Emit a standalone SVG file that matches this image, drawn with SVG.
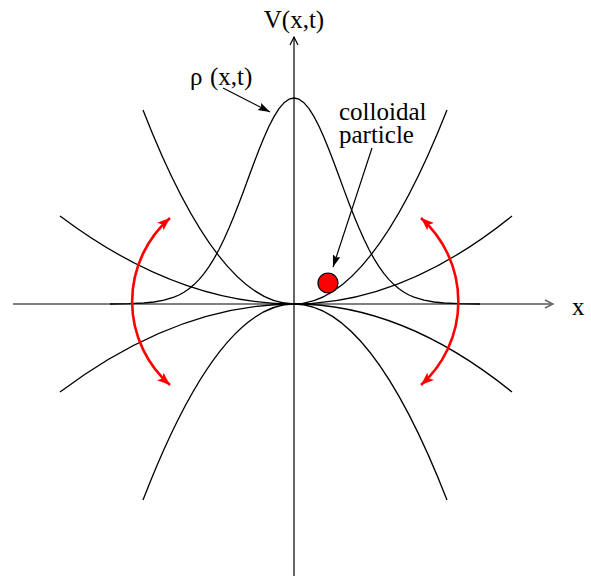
<svg xmlns="http://www.w3.org/2000/svg" width="591" height="576" viewBox="0 0 591 576">
<style>
  .curve { fill: none; stroke: #000; stroke-width: 1.3; stroke-linejoin: round; }
  .lbl { font-family: "Liberation Serif", "Times New Roman", serif; font-size: 25px; fill: #000; }
  .red { fill: none; stroke: #ff0000; stroke-width: 2.6; marker-start: url(#redhead); marker-end: url(#redhead); }
</style>
<defs>
  <marker id="redhead" markerUnits="userSpaceOnUse" markerWidth="16" markerHeight="12" refX="13" refY="5" orient="auto-start-reverse">
    <path d="M0,0 L13,5 L0,10 L3,5 z" fill="#ff0000"/>
  </marker>
  <marker id="blackhead" markerUnits="userSpaceOnUse" markerWidth="14" markerHeight="10" refX="12" refY="4" orient="auto">
    <path d="M0,0 L12,4 L0,8 L2,4 z" fill="#000"/>
  </marker>
  <marker id="openblack" markerUnits="userSpaceOnUse" markerWidth="12" markerHeight="12" refX="9" refY="5" orient="auto">
    <path d="M1,1 L9,5 L1,9" fill="none" stroke="#000" stroke-width="1.2"/>
  </marker>
  <marker id="opengray" markerUnits="userSpaceOnUse" markerWidth="12" markerHeight="12" refX="9" refY="5" orient="auto">
    <path d="M1,1 L9,5 L1,9" fill="none" stroke="#666" stroke-width="1.4"/>
  </marker>
</defs>
<rect width="591" height="576" fill="#fff"/>

<g id="axes">
  <line x1="13" y1="304" x2="553" y2="304" stroke="#808080" stroke-width="2" marker-end="url(#opengray)"/>
  <line x1="294" y1="576" x2="294" y2="37" stroke="#000" stroke-width="1.2" marker-end="url(#openblack)"/>
  <text class="lbl" x="294" y="28" text-anchor="middle">V(x,t)</text>
  <text class="lbl" x="572" y="315" font-size="23">x</text>
</g>

<g id="potentials">
  <path class="curve" d="M143,110 Q218.5,304 294,304 Q370.5,304 447,110"/>
  <path class="curve" d="M143,500 Q218.5,304 294,304 Q370.5,304 447,500"/>
  <path class="curve" d="M60,216 Q177,304 294,304 Q403,304 512,216"/>
  <path class="curve" d="M60,392 Q177,304 294,304 Q403,304 512,392"/>
</g>

<g id="density">
  <polyline class="curve" points="110,304 129,303.7 144,303 154,302 164,300.2 174,297.1 179,295 184,292.2 189,288.8 194,284.6 199,279.6 204,273.6 209,266.6 214,258.6 219,249.5 224,239.3 229,228.1 234,216 239,203.2 244,189.9 249,176.3 254,162.8 259,149.8 264,137.5 269,126.3 274,116.6 279,108.7 284,102.8 289,99.2 294,98 299,99.2 304,102.8 309,108.7 314,116.6 319,126.3 324,137.5 329,149.8 334,162.8 339,176.3 344,189.9 349,203.2 354,216 359,228.1 364,239.3 369,249.5 374,258.6 379,266.6 384,273.6 389,279.6 394,284.6 399,288.8 404,292.2 409,295 414,297.1 424,300.2 434,302 444,303 459,303.7 480,304"/>
</g>

<g id="rho-label">
  <text class="lbl" y="85"><tspan x="190">ρ</tspan><tspan x="210">(x,t)</tspan></text>
</g>

<g id="particle-label">
  <text class="lbl" x="339" y="120">colloidal</text>
  <text class="lbl" x="339" y="143">particle</text>
</g>

<g id="particle">
  <circle cx="328" cy="283" r="10" fill="#ff0000" stroke="#000" stroke-width="1.2"/>
</g>

<g id="connectors">
  <line x1="223" y1="88" x2="270" y2="112" stroke="#000" stroke-width="1.2" marker-end="url(#blackhead)"/>
  <line x1="372" y1="148" x2="333" y2="267" stroke="#000" stroke-width="1.2" marker-end="url(#blackhead)"/>
  <path class="red" d="M170,218 A111,111 0 0,0 170,385"/>
  <path class="red" d="M421,218 A112,112 0 0,1 421,385"/>
</g>
</svg>
